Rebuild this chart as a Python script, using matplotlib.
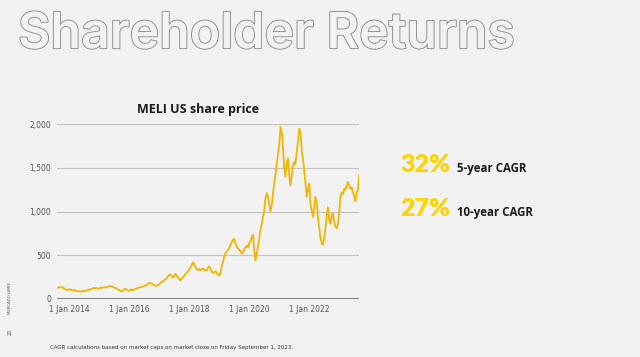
import numpy as np
import pandas as pd
import matplotlib.pyplot as plt
import matplotlib.patheffects as pe

# MELI share price, semi-monthly readings (1st and 15th of each month)
p2013 = [122, 130, 138, 132, 140, 128, 118, 110, 105, 108]  # Aug-Dec
p2014 = [106, 112, 100, 98, 104, 96, 92, 88, 90, 84, 88, 92,
         96, 90, 98, 104, 110, 106, 114, 122, 128, 124, 126, 118]
p2015 = [122, 128, 126, 132, 130, 136, 134, 140, 146, 150, 144, 138,
         132, 126, 120, 110, 100, 92, 86, 96, 110, 118, 108, 98]
p2016 = [94, 104, 112, 100, 108, 116, 120, 126, 130, 134, 138, 142,
         148, 152, 160, 172, 186, 182, 174, 166, 160, 150, 156, 154]
p2017 = [168, 186, 196, 204, 214, 226, 240, 256, 276, 282, 262, 244,
         262, 286, 270, 250, 230, 212, 236, 250, 268, 286, 300, 312]
p2018 = [340, 362, 390, 420, 404, 370, 340, 330, 345, 330, 338, 350,
         340, 322, 330, 356, 372, 352, 318, 296, 304, 318, 300, 280]
p2019 = [268, 300, 380, 420, 480, 520, 540, 560, 580, 610, 650, 675,
         690, 640, 600, 580, 560, 545, 520, 535, 570, 590, 610, 590]
p2020 = [640, 660, 710, 735, 560, 440, 520, 600, 690, 790, 860, 940,
         1000, 1150, 1210, 1170, 1080, 1000, 1080, 1200, 1340, 1420, 1560, 1650]
p2021 = [1780, 1970, 1900, 1720, 1500, 1400, 1560, 1610, 1420, 1300, 1400, 1530,
         1570, 1540, 1680, 1800, 1950, 1900, 1700, 1610, 1460, 1330, 1170, 1250]
p2022 = [1320, 1080, 1000, 940, 1050, 1170, 1100, 940, 820, 700, 640, 620,
         700, 800, 960, 1050, 900, 860, 960, 980, 880, 830, 810, 860]
p2023 = [1000, 1180, 1220, 1200, 1260, 1250, 1300, 1340, 1300, 1260, 1280, 1220,
         1180, 1120, 1220, 1250, 1420]  # Jan - 1 Sep

price = p2013 + p2014 + p2015 + p2016 + p2017 + p2018 + p2019 + p2020 + p2021 + p2022 + p2023
dates = pd.date_range('2013-08-01', periods=len(price), freq='SMS')

tick_years = [2014, 2016, 2018, 2020, 2022]
y_ticks = [0, 500, 1000, 1500, 2000]

cagr_values = ['32%', '27%']
cagr_labels = ['5-year CAGR', '10-year CAGR']

BG = '#f2f2f2'
LINE = '#f4b400'
HILITE = '#ffd200'

fig = plt.figure(figsize=(6.4, 3.57), dpi=100, facecolor=BG)

# big outlined heading
fig.text(0.028, 0.865, 'Shareholder Returns', fontsize=36, family='Inter',
         fontweight='semibold', color=BG, ha='left', va='baseline',
         path_effects=[pe.withStroke(linewidth=1.3, foreground='#8c8c8c')])

ax = fig.add_axes([0.0886, 0.1625, 0.4728, 0.4893])
ax.set_facecolor(BG)
ax.plot(dates, price, color=LINE, lw=1.3)

ax.set_xlim(dates[0], dates[-1])
ax.set_ylim(0, 2000)
ax.set_yticks(y_ticks)
ax.set_yticklabels([f'{v:,}' for v in y_ticks])
ax.set_xticks([pd.Timestamp(f'{y}-01-01') for y in tick_years])
ax.set_xticklabels([f'1 Jan {y}' for y in tick_years])
ax.tick_params(length=0, labelsize=5.5, labelcolor='#555555', pad=4)
for s in ax.spines.values():
    s.set_visible(False)
ax.grid(axis='y', color='#c4c4c4', lw=0.9)
ax.axhline(0, color='#666666', lw=1.2)
ax.set_axisbelow(True)

fig.text(0.31, 0.692, 'MELI US share price', fontsize=9, fontweight='bold',
         family='Open Sans', color='#1a1a1a', ha='center', va='center')

# CAGR callouts
for i, (v, lab) in enumerate(zip(cagr_values, cagr_labels)):
    yb = 0.519 - i * 0.124
    fig.text(0.626, yb, v, fontsize=18, fontweight='heavy', family='Lato',
             color=HILITE, ha='left', va='baseline')
    fig.text(0.714, yb, lab, fontsize=8.3, fontweight='bold', family='Open Sans',
             color='#1a1a1a', ha='left', va='baseline')

# side marks and footnote
fig.text(0.016, 0.165, 'MERCADO LIBRE', fontsize=2.8, rotation=90,
         color='#555555', ha='center', va='center')
fig.text(0.016, 0.07, '20', fontsize=3.5, rotation=90,
         color='#555555', ha='center', va='center')
fig.text(0.078, 0.026, 'CAGR calculations based on market caps on market close on Friday September 1, 2023.',
         fontsize=4, color='#333333', ha='left', va='center')

fig.savefig('out.png', dpi=100, facecolor=BG)
